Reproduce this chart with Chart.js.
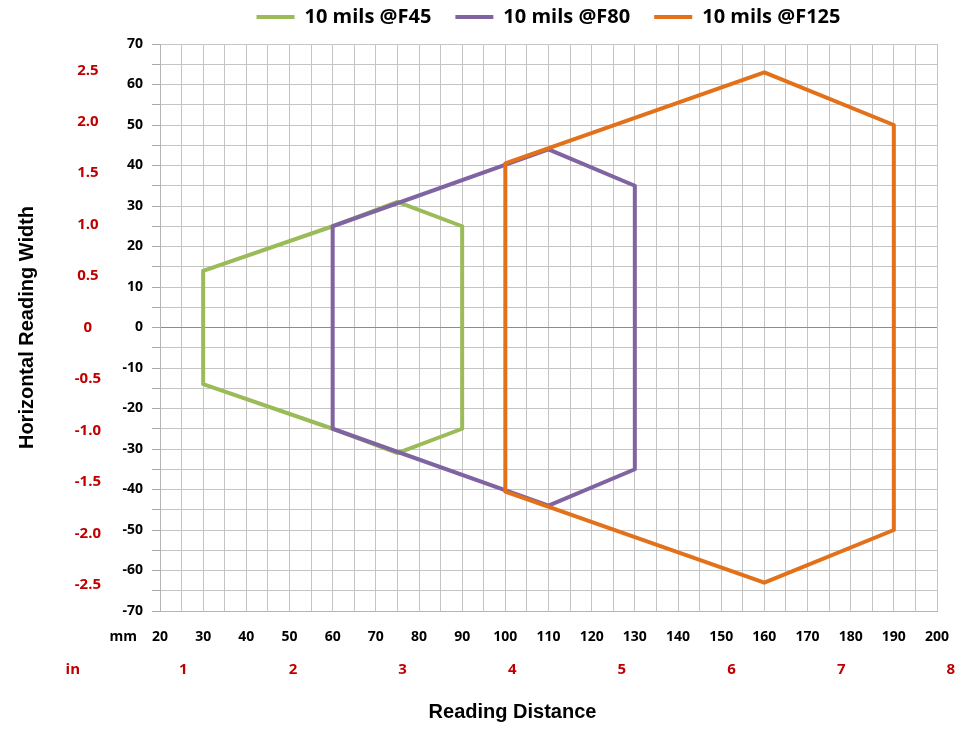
<!DOCTYPE html>
<html>
<head>
<meta charset="utf-8">
<script src="https://cdn.jsdelivr.net/npm/chart.js@4.4.1/dist/chart.umd.min.js"></script>
<style>
  html, body { margin: 0; padding: 0; background: #fff; }
</style>
</head>
<body>
<canvas id="grafico" width="963" height="729"></canvas>
<script>
// reading zones, mm (x = distance, y = half width)
const f45X = [30, 60, 75, 90, 90, 75, 60, 30, 30];
const f45Y = [14, 25, 31, 25, -25, -31, -25, -14, 14];
const f80X = [60, 110, 130, 130, 110, 60, 60];
const f80Y = [25, 44, 35, -35, -44, -25, 25];
const f125X = [100, 160, 190, 190, 160, 100, 100];
const f125Y = [40.5, 63, 50, -50, -63, -40.5, 40.5];

const seriesNames = ["10 mils @F45", "10 mils @F80", "10 mils @F125"];
const seriesColors = ["#9BBB59", "#8064A2", "#E2711A"];

const inchTicksX = [1, 2, 3, 4, 5, 6, 7, 8];
const inchTicksY = [-2.5, -2.0, -1.5, -1.0, -0.5, 0, 0.5, 1.0, 1.5, 2.0, 2.5];
const MM_PER_IN = 25.4;

const RED = "#C00000";
const GRID = "#C4C4C4";

const pontos = (xs, ys) => xs.map((x, i) => ({ x: x, y: ys[i] }));

const serie = (i, xs, ys, order) => ({
  label: seriesNames[i],
  data: pontos(xs, ys),
  borderColor: seriesColors[i],
  backgroundColor: seriesColors[i],
  borderWidth: 4,
  showLine: true,
  fill: false,
  tension: 0,
  pointRadius: 0,
  pointHoverRadius: 0,
  borderJoinStyle: "round",
  borderCapStyle: "round",
  order: order,
  xAxisID: "x",
  yAxisID: "y",
});

const tickFont = { family: "Open Sans", weight: "bold", size: 14 };
const redFont = { family: "Open Sans", weight: "bold", size: 15 };

const textosExtras = {
  id: "textosExtras",
  afterDraw(chart) {
    const { ctx, chartArea, scales } = chart;
    ctx.save();
    ctx.textBaseline = "middle";
    ctx.textAlign = "right";
    ctx.fillStyle = "#000";
    ctx.font = "bold 14px 'Open Sans'";
    ctx.fillText("mm", chartArea.left - 23, scales.x.top + 26);
    ctx.fillStyle = RED;
    ctx.font = "bold 15px 'Open Sans'";
    ctx.fillText("in", chartArea.left - 80, scales.xIn.top + 17);
    ctx.textAlign = "center";
    ctx.fillStyle = "#000";
    ctx.font = "bold 20px 'Liberation Sans'";
    ctx.fillText("Reading Distance", (chartArea.left + chartArea.right) / 2 - 36, chart.height - 17);
    ctx.restore();
  },
};

const ajusteHorizontal = (altura) => (s) => {
  s.height = altura;
  s.paddingLeft = 0;
  s.paddingRight = 0;
};

const ctx = document.getElementById("grafico").getContext("2d");

const chart = new Chart(ctx, {
  type: "scatter",
  data: {
    datasets: [
      serie(0, f45X, f45Y, 3),
      serie(1, f80X, f80Y, 2),
      serie(2, f125X, f125Y, 1),
    ],
  },
  options: {
    responsive: false,
    animation: false,
    layout: { padding: { left: 0, right: 26, top: -17, bottom: 0 } },
    plugins: {
      tooltip: { enabled: false },
      legend: {
        position: "top",
        fullSize: false,
        labels: {
          usePointStyle: true,
          pointStyle: "line",
          pointStyleWidth: 38,
          color: "#000",
          font: { family: "Open Sans", weight: "bold", size: 20 },
          padding: 24,
          sort: (a, b) => a.datasetIndex - b.datasetIndex,
        },
      },
    },
    scales: {
      // empty strip between legend and plot
      xTop: {
        type: "linear",
        position: "top",
        min: 20,
        max: 200,
        afterFit: ajusteHorizontal(7),
        ticks: { display: false },
        grid: { display: false, drawTicks: false },
        border: { display: false },
      },
      x: {
        type: "linear",
        position: "bottom",
        weight: 0,
        min: 20,
        max: 200,
        afterFit: ajusteHorizontal(42),
        ticks: {
          stepSize: 5,
          autoSkip: false,
          maxRotation: 0,
          padding: 18,
          color: "#000",
          font: tickFont,
          callback: (v) => (v % 10 === 0 ? v : ""),
        },
        grid: { color: GRID, drawTicks: false },
        border: { color: "#B5B5B5" },
      },
      xIn: {
        type: "linear",
        position: "bottom",
        weight: 1,
        min: 20,
        max: 200,
        afterBuildTicks: (s) => { s.ticks = inchTicksX.map((v) => ({ value: v * MM_PER_IN })); },
        afterFit: ajusteHorizontal(76),
        ticks: {
          autoSkip: false,
          maxRotation: 0,
          padding: 8,
          color: RED,
          font: redFont,
          callback: (v) => String(Math.round(v / MM_PER_IN)),
        },
        grid: { display: false, drawTicks: false },
        border: { display: false },
      },
      y: {
        type: "linear",
        position: "left",
        weight: 0,
        min: -70,
        max: 70,
        afterFit: (s) => { s.width = 55; },
        ticks: {
          stepSize: 5,
          autoSkip: false,
          padding: 9,
          color: "#000",
          font: tickFont,
          callback: (v) => (v % 10 === 0 ? v : ""),
        },
        grid: {
          color: (c) => (c.tick && c.tick.value === 0 ? "#8C8C8C" : GRID),
          tickLength: 8,
          tickColor: "#A8A8A8",
        },
        border: { color: "#B5B5B5" },
      },
      yIn: {
        type: "linear",
        position: "left",
        weight: 1,
        min: -70,
        max: 70,
        afterBuildTicks: (s) => { s.ticks = inchTicksY.map((v) => ({ value: v * MM_PER_IN })); },
        afterFit: (s) => { s.width = 105; },
        ticks: {
          autoSkip: false,
          crossAlign: "center",
          padding: 4,
          color: RED,
          font: redFont,
          callback: (v) => {
            const pol = Math.round((v / MM_PER_IN) * 10) / 10;
            return pol === 0 ? "0" : pol.toFixed(1);
          },
        },
        grid: { display: false, drawTicks: false },
        border: { display: false },
        title: {
          display: true,
          text: "Horizontal Reading Width",
          color: "#000",
          font: { family: "Liberation Sans", weight: "bold", size: 20 },
          padding: { top: 15, bottom: 0 },
        },
      },
    },
  },
  plugins: [textosExtras],
});
</script>
</body>
</html>
